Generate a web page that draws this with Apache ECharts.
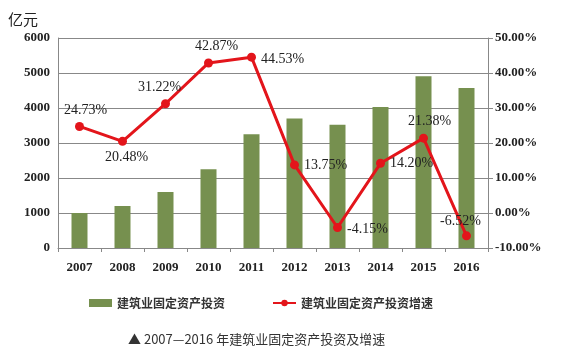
<!DOCTYPE html>
<html>
<head>
<meta charset="utf-8">
<script src="https://cdn.jsdelivr.net/npm/echarts@6/dist/echarts.min.js"></script>
<style>
  html, body { margin: 0; padding: 0; background: #fff; }
  #chart { width: 567px; height: 352px; }
</style>
</head>
<body>
<div id="chart"></div>
<script>
let years = ['2007', '2008', '2009', '2010', '2011', '2012', '2013', '2014', '2015', '2016'];
let investData = [1000, 1200, 1600, 2250, 3250, 3700, 3520, 4030, 4910, 4570];
let growthData = [24.73, 20.48, 31.22, 42.87, 44.53, 13.75, -4.15, 14.20, 21.38, -6.52];
let labelPos = ['top', 'bottom', 'top', 'top', 'right', 'right', 'right', 'right', 'top', 'top'];
let labelOff = [[6, 0], [4, 0], [-6, 0], [8, 0], [0, 2], [0, 0], [0, 2], [0, 0], [6, 0], [-6, 2]];

let serif = '"Liberation Serif", "DejaVu Serif", serif';
let cjk = '"Noto Sans CJK SC", sans-serif';

let chart = echarts.init(document.getElementById('chart'));

let growthArr = growthData.map((v, i) => ({
  value: v,
  label: { position: labelPos[i], offset: labelOff[i] }
}));

let option = {
  backgroundColor: '#fff',
  animation: false,
  grid: { left: 58, right: 79, top: 38, bottom: 104 },
  legend: {
    left: 84,
    top: 292,
    itemGap: 47,
    itemWidth: 23,
    itemHeight: 8,
    textStyle: { fontFamily: cjk, fontSize: 12, color: '#333', fontWeight: 'bold' },
    data: [
      { name: '建筑业固定资产投资', icon: 'rect' },
      { name: '建筑业固定资产投资增速' }
    ]
  },
  graphic: [
    {
      type: 'text', left: 8, top: 12,
      style: { text: '亿元', font: '15px ' + cjk, fill: '#222' }
    },
    {
      type: 'text', left: 128, top: 333,
      style: { text: '▲ 2007—2016 年建筑业固定资产投资及增速', font: '13px ' + cjk, fill: '#333' }
    }
  ],
  xAxis: {
    type: 'category',
    data: years,
    axisLine: { lineStyle: { color: '#888' } },
    axisTick: { show: true, length: 4, lineStyle: { color: '#888' } },
    axisLabel: { color: '#222', fontFamily: serif, fontWeight: 'bold', fontSize: 13, margin: 13 }
  },
  yAxis: [
    {
      type: 'value', min: 0, max: 6000, interval: 1000,
      axisLine: { show: true, lineStyle: { color: '#888' } },
      axisTick: { show: false },
      axisLabel: { color: '#222', fontFamily: serif, fontWeight: 'bold', fontSize: 13, margin: 8,
        formatter: v => String(v) },
      splitLine: { lineStyle: { color: '#888', width: 1 } }
    },
    {
      type: 'value', min: -10, max: 50, interval: 10,
      axisLine: { show: true, lineStyle: { color: '#888' } },
      axisTick: { show: true, length: 5, lineStyle: { color: '#888' } },
      axisLabel: {
        color: '#222', fontFamily: serif, fontWeight: 'bold', fontSize: 13, margin: 7,
        formatter: v => v.toFixed(2) + '%'
      },
      splitLine: { show: false }
    }
  ],
  series: [
    {
      name: '建筑业固定资产投资',
      type: 'bar',
      barWidth: 16,
      itemStyle: { color: '#76904f' },
      data: investData
    },
    {
      name: '建筑业固定资产投资增速',
      type: 'line',
      yAxisIndex: 1,
      symbol: 'circle',
      symbolSize: 9,
      lineStyle: { color: '#e3151b', width: 3 },
      itemStyle: { color: '#e3151b' },
      label: {
        show: true,
        color: '#222',
        fontFamily: serif,
        fontSize: 14,
        formatter: p => p.value.toFixed(2) + '%'
      },
      data: growthArr
    }
  ]
};

chart.setOption(option);
</script>
</body>
</html>
